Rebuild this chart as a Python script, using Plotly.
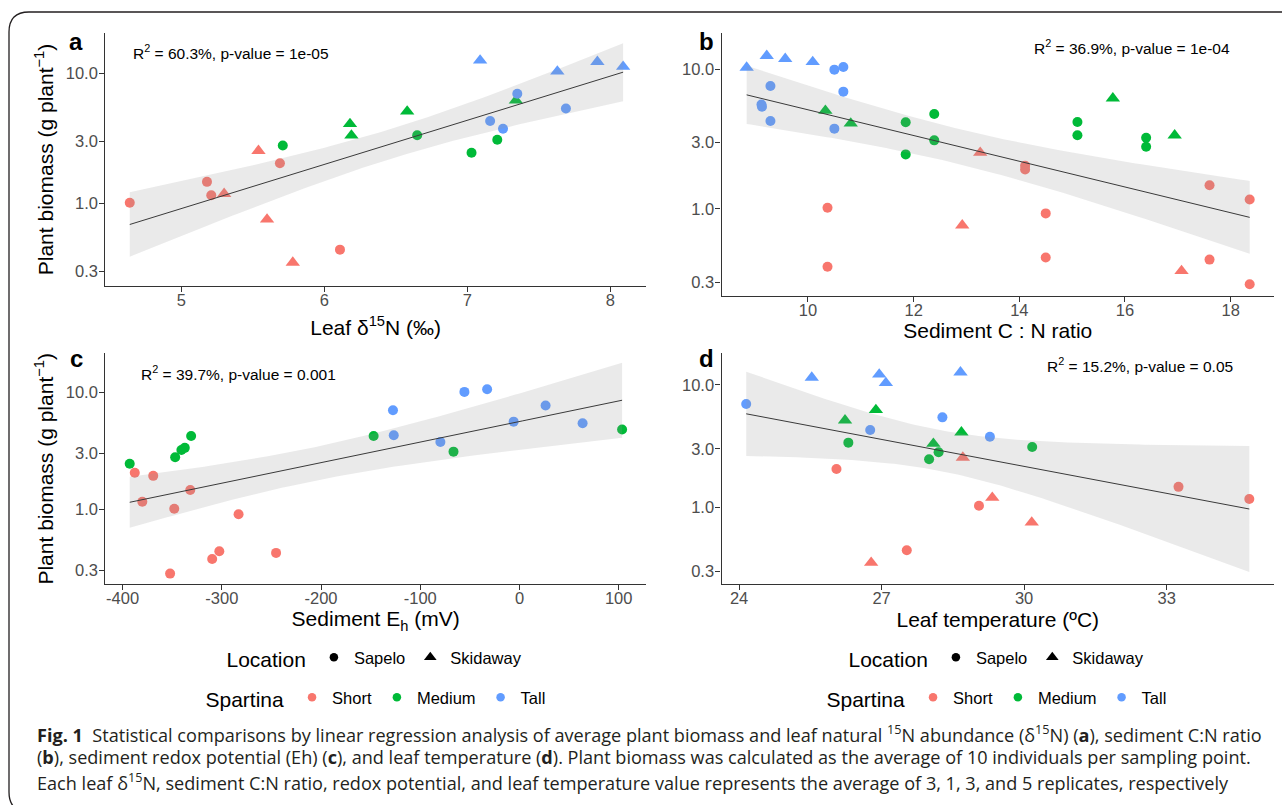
import math
import numpy as np
import plotly.graph_objects as go

W, H = 1282, 805
FONT = "Liberation Sans, Arial, sans-serif"
CAPFONT = "Open Sans, Lato, sans-serif"

SPARTINA = ["Short", "Medium", "Tall"]
LOCATIONS = ["Sapelo", "Skidaway"]
COLORS = {"Short": "#F8766D", "Medium": "#00BA38", "Tall": "#619CFF"}
SYMBOLS = {"Sapelo": "circle", "Skidaway": "triangle-up"}
MSIZE = {"Sapelo": 10, "Skidaway": 12.5}

# ---------------- Panel a : leaf d15N ----------------
A_X = [4.64, 5.18, 5.21, 5.69, 6.11, 5.30, 5.54, 5.60, 5.78,
       5.71, 6.65, 7.03, 7.21, 6.18, 6.19, 6.58, 7.34,
       7.35, 7.16, 7.25, 7.69, 7.09, 7.63, 7.91, 8.09]
A_Y = [1.01, 1.46, 1.15, 2.03, 0.44, 1.18, 2.53, 0.75, 0.35,
       2.78, 3.33, 2.44, 3.07, 4.07, 3.32, 5.07, 6.16,
       6.93, 4.28, 3.73, 5.35, 12.5, 10.3, 12.2, 11.2]
A_SP = ["Short"] * 9 + ["Medium"] * 8 + ["Tall"] * 8
A_LOC = (["Sapelo"] * 5 + ["Skidaway"] * 4 + ["Sapelo"] * 4 + ["Skidaway"] * 4
         + ["Sapelo"] * 4 + ["Skidaway"] * 4)

# ---------------- Panel b : sediment C:N ----------------
B_X = [8.84, 9.22, 9.57, 10.09,
       9.12, 9.13, 9.29, 9.29, 10.50, 10.67, 10.67, 10.50,
       10.33, 10.81, 15.77, 16.94,
       11.85, 11.85, 12.39, 12.39, 15.10, 15.10, 16.40, 16.40,
       10.37, 10.37, 14.11, 14.11, 14.50, 14.50, 17.60, 17.60, 18.36, 18.36,
       13.26, 12.92, 17.07]
B_Y = [10.3, 12.5, 11.9, 11.3,
       5.60, 5.40, 7.6, 4.27, 9.95, 10.4, 6.92, 3.76,
       5.06, 4.10, 6.2, 3.37,
       4.18, 2.46, 4.79, 3.10, 4.2, 3.37, 3.24, 2.79,
       1.02, 0.386, 2.04, 1.92, 0.93, 0.449, 1.48, 0.434, 1.17, 0.289,
       2.53, 0.764, 0.36]
B_SP = ["Tall"] * 12 + ["Medium"] * 12 + ["Short"] * 13
B_LOC = (["Skidaway"] * 4 + ["Sapelo"] * 8 + ["Skidaway"] * 4 + ["Sapelo"] * 8
         + ["Sapelo"] * 10 + ["Skidaway"] * 3)

# ---------------- Panel c : sediment Eh ----------------
C_X = [-387.7, -369.1, -380.1, -331.8, -347.9, -283.1, -302.5, -309.7, -352.1, -245.3,
       -392.8, -347.0, -340.7, -337.3, -330.9, -147.0, -66.5, 103.4,
       -127.5, -126.7, -79.7, -55.5, -32.6, -5.9, 26.3, 63.6]
C_Y = [2.05, 1.93, 1.16, 1.46, 1.01, 0.906, 0.438, 0.376, 0.282, 0.424,
       2.45, 2.78, 3.21, 3.35, 4.23, 4.23, 3.11, 4.80,
       7.02, 4.29, 3.76, 10.07, 10.6, 5.61, 7.7, 5.43]
C_SP = ["Short"] * 10 + ["Medium"] * 8 + ["Tall"] * 8
C_LOC = ["Sapelo"] * 26

# ---------------- Panel d : leaf temperature ----------------
D_X = [25.53, 26.95, 27.09, 28.66,
       24.15, 26.76, 28.28, 29.28,
       26.23, 26.88, 28.09, 28.68,
       26.30, 28.00, 28.20, 30.17,
       26.05, 27.53, 29.05, 33.25, 34.74,
       26.78, 28.71, 29.33, 30.16]
D_Y = [11.5, 12.2, 10.4, 12.7,
       7.0, 4.29, 5.44, 3.78,
       5.14, 6.25, 3.31, 4.10,
       3.38, 2.47, 2.82, 3.11,
       2.06, 0.446, 1.03, 1.47, 1.17,
       0.353, 2.55, 1.20, 0.753]
D_SP = ["Tall"] * 8 + ["Medium"] * 8 + ["Short"] * 9
D_LOC = (["Skidaway"] * 4 + ["Sapelo"] * 4 + ["Skidaway"] * 4 + ["Sapelo"] * 4
         + ["Sapelo"] * 5 + ["Skidaway"] * 4)

STATS = ["R<sup>2</sup> = 60.3%, p-value = 1e-05",
         "R<sup>2</sup> = 36.9%, p-value = 1e-04",
         "R<sup>2</sup> = 39.7%, p-value = 0.001",
         "R<sup>2</sup> = 15.2%, p-value = 0.05"]
XTITLES = ["Leaf δ<sup>15</sup>N (‰)", "Sediment C : N ratio",
           "Sediment E<sub>h</sub> (mV)", "Leaf temperature (ºC)"]
YTITLE = "Plant biomass (g plant<sup>−1</sup>)"
LETTERS = ["a", "b", "c", "d"]
XTICKS = [[5, 6, 7, 8], [10, 12, 14, 16, 18],
          [-400, -300, -200, -100, 0, 100], [24, 27, 30, 33]]
XTICKTEXT = [["5", "6", "7", "8"], ["10", "12", "14", "16", "18"],
             ["-400", "-300", "-200", "-100", "0", "100"], ["24", "27", "30", "33"]]
YTICKS = [0.3, 1, 3, 10]
YTICKTEXT = ["0.3", "1.0", "3.0", "10.0"]

# layout geometry (pixels)
DOM_X = [(105.3, 646), (721.5, 1274), (105.3, 646), (721.5, 1274)]
DOM_Y = [(33, 286), (33.3, 296), (353.3, 584.3), (353.3, 584.3)]
XR = [(4.469, 8.25), (8.364, 18.82), (-417.4, 127.5), (23.63, 35.26)]
YR = [(-0.636, 1.308), (-0.623, 1.258), (-0.641, 1.333), (-0.629, 1.259)]
XSTANDOFF = [12, 4, 3, 6]

PANELS = [(A_X, A_Y, A_SP, A_LOC), (B_X, B_Y, B_SP, B_LOC),
          (C_X, C_Y, C_SP, C_LOC), (D_X, D_Y, D_SP, D_LOC)]


def tq(df):
    z = 1.959964
    return (z + (z**3 + z) / (4 * df) + (5 * z**5 + 16 * z**3 + 3 * z) / (96 * df**2)
            + (3 * z**7 + 19 * z**5 + 17 * z**3 - 15 * z) / (384 * df**3))


def fit_band(x, y):
    x = np.asarray(x, float)
    ly = np.log10(np.asarray(y, float))
    n = len(x)
    b1, b0 = np.polyfit(x, ly, 1)
    res = ly - (b0 + b1 * x)
    s = math.sqrt(np.sum(res**2) / (n - 2))
    xs = np.linspace(x.min(), x.max(), 120)
    f = b0 + b1 * xs
    se = s * np.sqrt(1 / n + (xs - x.mean())**2 / np.sum((x - x.mean())**2))
    t = tq(n - 2)
    return xs, 10**f, 10**(f - t * se), 10**(f + t * se)


def px(v):
    return v / W


def py(v):
    return 1 - v / H


fig = go.Figure()

for i, (xv, yv, sp, loc) in enumerate(PANELS):
    k = "" if i == 0 else str(i + 1)
    xa, ya = "x" + k, "y" + k
    for s in SPARTINA:
        for l in LOCATIONS:
            idx = [j for j in range(len(xv)) if sp[j] == s and loc[j] == l]
            if not idx:
                continue
            fig.add_trace(go.Scatter(
                x=[xv[j] for j in idx], y=[yv[j] for j in idx], mode="markers",
                marker=dict(color=COLORS[s], symbol=SYMBOLS[l], size=MSIZE[l],
                            line=dict(width=0)),
                xaxis=xa, yaxis=ya, showlegend=False, hoverinfo="skip"))
    xs, fit, lo, hi = fit_band(xv, yv)
    fig.add_trace(go.Scatter(
        x=np.concatenate([xs, xs[::-1]]), y=np.concatenate([hi, lo[::-1]]),
        fill="toself", fillcolor="rgba(150,150,150,0.2)", line=dict(width=0),
        mode="lines", xaxis=xa, yaxis=ya, showlegend=False, hoverinfo="skip"))
    fig.add_trace(go.Scatter(
        x=xs, y=fit, mode="lines", line=dict(color="#3a3a3a", width=1),
        xaxis=xa, yaxis=ya, showlegend=False, hoverinfo="skip"))

# legend entries (dummy traces)
for legname in ["legend", "legend3"]:
    for l in LOCATIONS:
        fig.add_trace(go.Scatter(
            x=[None], y=[None], mode="markers", name=l, legend=legname,
            marker=dict(color="black", symbol=SYMBOLS[l], size=MSIZE[l] - 1.5)))
for legname in ["legend2", "legend4"]:
    for s in SPARTINA:
        fig.add_trace(go.Scatter(
            x=[None], y=[None], mode="markers", name=s, legend=legname,
            marker=dict(color=COLORS[s], symbol="circle", size=8.5)))

layout = dict(width=W, height=H, margin=dict(l=0, r=0, t=0, b=0),
              paper_bgcolor="white", plot_bgcolor="white",
              font=dict(family=FONT, color="black"))

for i in range(4):
    k = "" if i == 0 else str(i + 1)
    xd = [px(DOM_X[i][0]), px(DOM_X[i][1])]
    yd = [py(DOM_Y[i][1]), py(DOM_Y[i][0])]
    axcommon = dict(showgrid=False, zeroline=False, showline=True,
                    linecolor="#333333", linewidth=1.2, ticks="outside",
                    ticklen=5, tickwidth=1.1, tickcolor="#333333",
                    tickfont=dict(size=16.5, color="#4d4d4d", family=FONT))
    layout["xaxis" + k] = dict(axcommon, domain=xd, range=list(XR[i]),
                               anchor="y" + k, tickvals=XTICKS[i],
                               ticktext=XTICKTEXT[i], ticklabelstandoff=-6,
                               title=dict(text=XTITLES[i], standoff=XSTANDOFF[i],
                                          font=dict(size=21, color="black")))
    layout["yaxis" + k] = dict(axcommon, domain=yd, range=list(YR[i]),
                               type="log", anchor="x" + k, tickvals=YTICKS,
                               ticktext=YTICKTEXT, ticklabelstandoff=-2)
    if i in (0, 2):
        layout["yaxis" + k]["title"] = dict(text=YTITLE, standoff=6,
                                            font=dict(size=21, color="black"))


def leg(xc, yc, title):
    return dict(orientation="h", x=px(xc), xanchor="center", y=py(yc),
                yanchor="middle", bgcolor="rgba(0,0,0,0)", borderwidth=0,
                itemwidth=30, itemclick=False, itemdoubleclick=False,
                title=dict(text=title, side="left",
                           font=dict(size=21, family=FONT, color="black")),
                font=dict(size=16.5, family=FONT, color="black"))


layout["legend"] = leg(376, 659, "Location")
layout["legend2"] = leg(377, 699, "Spartina")
layout["legend3"] = leg(998, 659, "Location")
layout["legend4"] = leg(998, 699, "Spartina")

ann = []
LET_POS = [(76, 41), (706, 41), (76, 358), (706, 358)]
STAT_POS = [(131, 52), (1032, 47), (139, 373), (1045, 365)]
for i in range(4):
    ann.append(dict(text="<b>%s</b>" % LETTERS[i], x=px(LET_POS[i][0]),
                    y=py(LET_POS[i][1]), xref="paper", yref="paper",
                    showarrow=False, xanchor="center", yanchor="middle",
                    font=dict(size=24, family=FONT, color="black")))
    ann.append(dict(text=STATS[i], x=px(STAT_POS[i][0]), y=py(STAT_POS[i][1]),
                    xref="paper", yref="paper", showarrow=False,
                    xanchor="left", yanchor="middle",
                    font=dict(size=15.5, family=FONT, color="black")))

NB = "\u00a0"
CAPTION = [
    "<b>Fig. 1</b>" + NB + NB + "Statistical comparisons by linear regression analysis of average "
    "plant biomass and leaf natural <sup>15</sup>N abundance (δ<sup>15</sup>N) (<b>a</b>), "
    "sediment C:N ratio",
    "(<b>b</b>), sediment redox potential (Eh) (<b>c</b>), and leaf temperature (<b>d</b>). "
    "Plant biomass was calculated as the average of 10 individuals per sampling point.",
    "Each leaf δ<sup>15</sup>N, sediment C:N ratio, redox potential, and leaf temperature "
    "value represents the average of 3, 1, 3, and 5 replicates, respectively",
]
CAP_Y = [733, 757, 781]
for line, yy in zip(CAPTION, CAP_Y):
    ann.append(dict(text=line, x=px(35), y=py(yy), xref="paper", yref="paper",
                    showarrow=False, xanchor="left", yanchor="middle",
                    font=dict(size=18.1, family=CAPFONT, color="#231f20")))
layout["annotations"] = ann

# rounded figure frame
path = ("M {a},{b} L {c},{b} Q {d},{b} {d},{e} L {d},{f} Q {d},{g} {c},{g} L {a},{g}"
        .format(a=px(1300), b=py(12), c=px(29), d=px(9), e=py(32), f=py(792), g=py(812)))
layout["shapes"] = [dict(type="path", path=path, xref="paper", yref="paper",
                         line=dict(color="#231f20", width=1.3))]

fig.update_layout(**layout)
fig.write_html("out.html")
